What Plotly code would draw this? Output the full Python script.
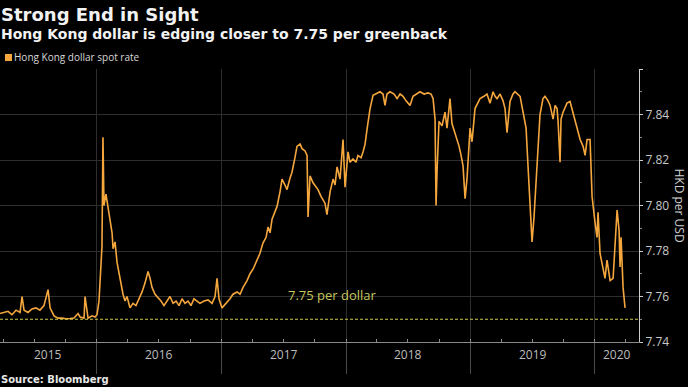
import pandas as pd
import plotly.graph_objects as go

# ---- data ----
decimal_year = [
    2015.221, 2015.253, 2015.285, 2015.317, 2015.350, 2015.382, 2015.398, 2015.414, 2015.446, 2015.478,
    2015.510, 2015.542, 2015.574, 2015.607, 2015.623, 2015.655, 2015.687, 2015.719, 2015.751, 2015.783,
    2015.815, 2015.848, 2015.864, 2015.896, 2015.904, 2015.928, 2015.960, 2015.984, 2016.000, 2016.016,
    2016.032, 2016.040, 2016.048, 2016.056, 2016.072, 2016.088, 2016.105, 2016.121, 2016.129, 2016.145,
    2016.161, 2016.177, 2016.193, 2016.209, 2016.225, 2016.241, 2016.265, 2016.289, 2016.313, 2016.337,
    2016.362, 2016.386, 2016.410, 2016.426, 2016.442, 2016.466, 2016.490, 2016.514, 2016.538, 2016.562,
    2016.586, 2016.611, 2016.635, 2016.659, 2016.683, 2016.707, 2016.731, 2016.755, 2016.779, 2016.803,
    2016.827, 2016.860, 2016.892, 2016.924, 2016.948, 2016.964, 2016.980, 2017.004, 2017.036, 2017.068,
    2017.092, 2017.125, 2017.149, 2017.173, 2017.205, 2017.229, 2017.253, 2017.285, 2017.309, 2017.333,
    2017.358, 2017.374, 2017.390, 2017.406, 2017.430, 2017.446, 2017.470, 2017.486, 2017.510, 2017.526,
    2017.550, 2017.566, 2017.590, 2017.606, 2017.631, 2017.647, 2017.671, 2017.687, 2017.695, 2017.711,
    2017.735, 2017.759, 2017.775, 2017.799, 2017.815, 2017.831, 2017.847, 2017.872, 2017.896, 2017.912,
    2017.928, 2017.952, 2017.976, 2017.992, 2018.016, 2018.032, 2018.056, 2018.080, 2018.096, 2018.121,
    2018.137, 2018.153, 2018.169, 2018.193, 2018.217, 2018.241, 2018.273, 2018.297, 2018.313, 2018.329,
    2018.353, 2018.386, 2018.410, 2018.434, 2018.458, 2018.482, 2018.514, 2018.538, 2018.570, 2018.594,
    2018.627, 2018.659, 2018.683, 2018.699, 2018.715, 2018.723, 2018.731, 2018.747, 2018.771, 2018.795,
    2018.811, 2018.835, 2018.851, 2018.876, 2018.892, 2018.908, 2018.924, 2018.940, 2018.956, 2018.972,
    2018.996, 2019.012, 2019.036, 2019.060, 2019.076, 2019.108, 2019.132, 2019.157, 2019.181, 2019.197,
    2019.213, 2019.237, 2019.261, 2019.277, 2019.293, 2019.317, 2019.341, 2019.357, 2019.382, 2019.398,
    2019.422, 2019.446, 2019.462, 2019.478, 2019.494, 2019.510, 2019.526, 2019.542, 2019.558, 2019.582,
    2019.598, 2019.623, 2019.639, 2019.663, 2019.679, 2019.695, 2019.703, 2019.719, 2019.727, 2019.743,
    2019.775, 2019.799, 2019.823, 2019.855, 2019.880, 2019.904, 2019.920, 2019.936, 2019.960, 2019.976,
    2019.984, 2020.000, 2020.016, 2020.024, 2020.040, 2020.064, 2020.080, 2020.096, 2020.121, 2020.145,
    2020.161, 2020.177, 2020.193, 2020.201, 2020.209, 2020.225, 2020.241,
]
spot_rate = [
    7.7525, 7.7530, 7.7535, 7.7520, 7.7540, 7.7530, 7.7600, 7.7540, 7.7530, 7.7545,
    7.7550, 7.7540, 7.7560, 7.7630, 7.7550, 7.7515, 7.7505, 7.7505, 7.7502, 7.7503,
    7.7505, 7.7525, 7.7510, 7.7505, 7.7600, 7.7505, 7.7515, 7.7510, 7.7520, 7.7580,
    7.7720, 7.7820, 7.8300, 7.8000, 7.8050, 7.7990, 7.7940, 7.7880, 7.7810, 7.7840,
    7.7750, 7.7700, 7.7660, 7.7610, 7.7580, 7.7600, 7.7550, 7.7570, 7.7560, 7.7590,
    7.7620, 7.7660, 7.7710, 7.7680, 7.7640, 7.7610, 7.7595, 7.7580, 7.7560, 7.7580,
    7.7600, 7.7570, 7.7580, 7.7560, 7.7590, 7.7570, 7.7580, 7.7560, 7.7590, 7.7580,
    7.7570, 7.7580, 7.7585, 7.7570, 7.7600, 7.7680, 7.7590, 7.7550, 7.7570, 7.7590,
    7.7610, 7.7620, 7.7610, 7.7640, 7.7670, 7.7700, 7.7720, 7.7760, 7.7790, 7.7835,
    7.7860, 7.7906, 7.7880, 7.7940, 7.7970, 7.7996, 7.8060, 7.8116, 7.8090, 7.8070,
    7.8120, 7.8146, 7.8210, 7.8260, 7.8270, 7.8250, 7.8240, 7.8220, 7.7950, 7.8130,
    7.8100, 7.8080, 7.8070, 7.8040, 7.8026, 7.8010, 7.7960, 7.8060, 7.8116, 7.8090,
    7.8170, 7.8116, 7.8290, 7.8080, 7.8236, 7.8190, 7.8205, 7.8190, 7.8220, 7.8210,
    7.8236, 7.8270, 7.8336, 7.8426, 7.8484, 7.8490, 7.8500, 7.8490, 7.8440, 7.8490,
    7.8500, 7.8490, 7.8470, 7.8490, 7.8480, 7.8460, 7.8440, 7.8480, 7.8490, 7.8500,
    7.8490, 7.8495, 7.8490, 7.8470, 7.8380, 7.8000, 7.8150, 7.8370, 7.8350, 7.8410,
    7.8340, 7.8470, 7.8360, 7.8320, 7.8290, 7.8260, 7.8220, 7.8173, 7.8030, 7.8120,
    7.8340, 7.8280, 7.8426, 7.8450, 7.8470, 7.8480, 7.8490, 7.8450, 7.8500, 7.8480,
    7.8470, 7.8490, 7.8460, 7.8426, 7.8320, 7.8457, 7.8490, 7.8500, 7.8490, 7.8480,
    7.8410, 7.8340, 7.8170, 7.8000, 7.7840, 7.7950, 7.8120, 7.8280, 7.8400, 7.8470,
    7.8480, 7.8460, 7.8440, 7.8380, 7.8440, 7.8426, 7.8370, 7.8190, 7.8380, 7.8410,
    7.8450, 7.8457, 7.8410, 7.8350, 7.8290, 7.8260, 7.8220, 7.8290, 7.8290, 7.8040,
    7.7996, 7.7925, 7.7860, 7.7970, 7.7790, 7.7730, 7.7680, 7.7760, 7.7670, 7.7680,
    7.7820, 7.7980, 7.7890, 7.7730, 7.7860, 7.7640, 7.7550,
]
peg_level = 7.75
peg_label = "7.75 per dollar"
peg_label_year = 2017.89
year_labels = ["2015", "2016", "2017", "2018", "2019", "2020"]
x_start_year = 2015.221
x_end_year = 2020.353
y_min, y_max = 7.74, 7.86
y_ticks = [7.74, 7.76, 7.78, 7.80, 7.82, 7.84, 7.86]
y_tick_text = ["7.74", "7.76", "7.78", "7.80", "7.82", "7.84", ""]

title = "Strong End in Sight"
subtitle = "Hong Kong dollar is edging closer to 7.75 per greenback"
series_name = "Hong Kong dollar spot rate"
source = "Source: Bloomberg"
y_title = "HKD per USD"


def to_date(t):
    return pd.Timestamp("2015-01-01") + pd.to_timedelta((t - 2015) * 365.25, unit="D")


dates = [to_date(t) for t in decimal_year]
x0, x1 = to_date(x_start_year), to_date(x_end_year)

ORANGE = "#f5a73e"
GRID = "#2e2e2e"
TICK = "#c8c8c8"

fig = go.Figure()
fig.add_trace(go.Scatter(x=dates, y=spot_rate, mode="lines", name=series_name,
                         line=dict(color=ORANGE, width=1.6), showlegend=False))
fig.add_trace(go.Scatter(x=[x0, x1], y=[peg_level, peg_level], mode="lines",
                         line=dict(color="#c9c94a", width=1.2, dash="3px,2px"),
                         showlegend=False, hoverinfo="skip"))

annotations = []
# year labels centred in the visible part of each year
for lab in year_labels:
    ys = max(pd.Timestamp(f"{lab}-01-01"), x0)
    ye = min(pd.Timestamp(f"{int(lab) + 1}-01-01"), x1)
    mid = ys + (ye - ys) / 2
    annotations.append(dict(x=mid, y=0, xref="x", yref="paper", yshift=-23, text=lab,
                            showarrow=False, font=dict(family="Open Sans", size=12, color="#bdbdbd")))

annotations += [
    dict(x=to_date(peg_label_year), y=peg_level, xref="x", yref="y", yanchor="bottom", yshift=13,
         text=peg_label, showarrow=False, font=dict(family="Open Sans", size=13, color="#c6c65c")),
    dict(x=0, y=1, xref="paper", yref="paper", xanchor="left", yanchor="middle", xshift=-1, yshift=55,
         text=f"<b>{title}</b>", showarrow=False,
         font=dict(family="DejaVu Sans", size=18, color="#f2f2f2")),
    dict(x=0, y=1, xref="paper", yref="paper", xanchor="left", yanchor="middle", xshift=-1, yshift=35,
         text=f"<b>{subtitle}</b>", showarrow=False,
         font=dict(family="DejaVu Sans", size=14, color="#f2f2f2")),
    dict(x=0, y=1, xref="paper", yref="paper", xanchor="left", yanchor="middle", xshift=12, yshift=12,
         text=series_name, showarrow=False,
         font=dict(family="Open Sans", size=10, color="#d8d8d8")),
    dict(x=0, y=0, xref="paper", yref="paper", xanchor="left", yanchor="middle", xshift=-1, yshift=-37,
         text=f"<b>{source}</b>", showarrow=False,
         font=dict(family="DejaVu Sans", size=10, color="#e8e8e8")),
    dict(x=1, y=0.5, xref="paper", yref="paper", xanchor="center", yanchor="middle", xshift=40,
         text=y_title, textangle=90, showarrow=False,
         font=dict(family="Open Sans", size=12, color="#d0d0d0")),
]

# legend swatch (pixel-sized square anchored above the plot)
shapes = [dict(type="rect", xref="paper", yref="paper", xsizemode="pixel", ysizemode="pixel",
               xanchor=0, yanchor=1, x0=5, x1=12, y0=8, y1=15, line=dict(width=0), fillcolor=ORANGE)]

fig.update_layout(
    width=688, height=387,
    paper_bgcolor="#000000", plot_bgcolor="#000000",
    margin=dict(l=0, r=49, t=69, b=45),
    annotations=annotations, shapes=shapes,
    xaxis=dict(range=[x0, x1], type="date", showticklabels=False,
               tick0="2015-01-01", dtick="M12", ticks="outside", ticklen=31, tickcolor="#4a4a4a",
               showgrid=True, gridcolor=GRID, gridwidth=1,
               showline=True, linecolor="#8a8a8a", linewidth=1, zeroline=False,
               minor=dict(dtick="M3", tick0="2015-01-01", ticks="inside", ticklen=3,
                          tickcolor="#8a8a8a", showgrid=False)),
    yaxis=dict(range=[y_min, y_max], side="right", tickmode="array", tickvals=y_ticks, ticktext=y_tick_text,
               ticks="outside", ticklen=3, tickcolor="#cccccc",
               tickfont=dict(family="Open Sans", size=12, color=TICK),
               showgrid=True, gridcolor=GRID, gridwidth=1, zeroline=False,
               showline=True, linecolor="#cccccc", linewidth=1,
               minor=dict(dtick=0.01, tick0=7.74, ticks="outside", ticklen=2, tickcolor="#888888",
                          showgrid=False)),
)

fig.write_html(
    "out.html",
    config={"displayModeBar": False},
    post_script="document.body.style.margin='0';document.body.style.background='#000';",
)
